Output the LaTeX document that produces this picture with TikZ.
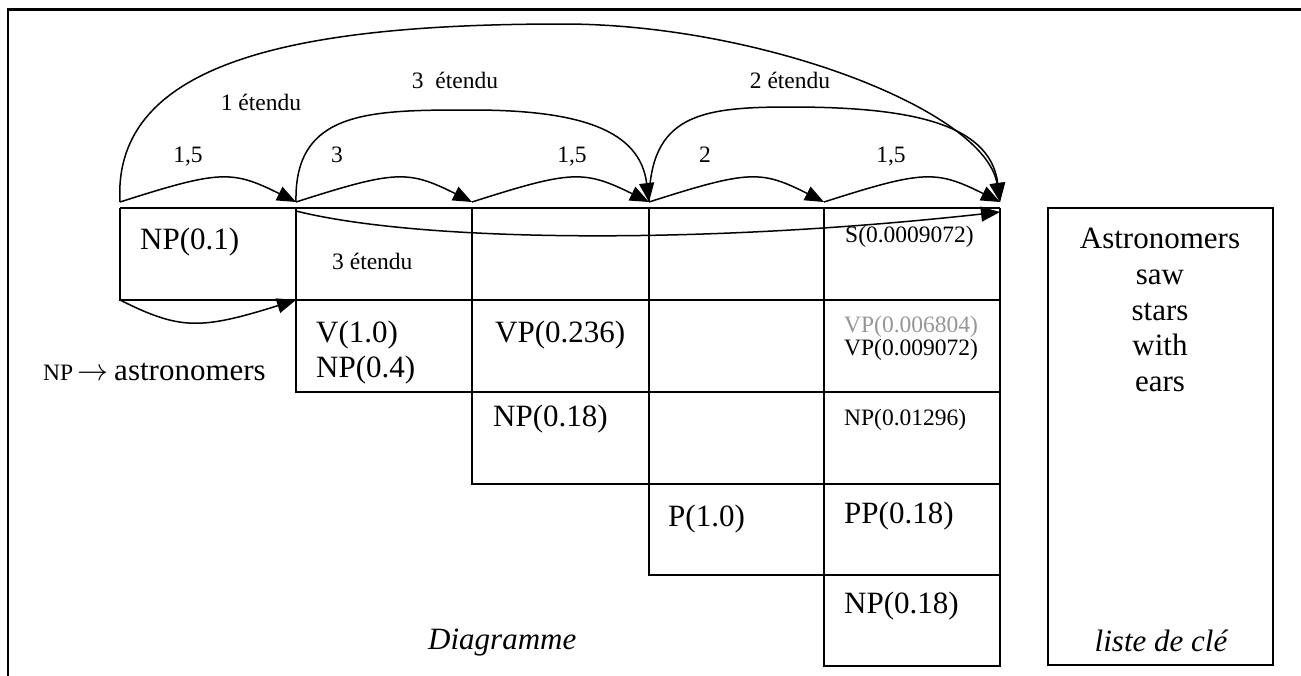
\documentclass[tikz,border=0pt]{standalone}
\usepackage{fix-cm}
\usepackage{fontspec}
\setmainfont{Liberation Serif}
\usetikzlibrary{arrows.meta}
\definecolor{lightgrey}{RGB}{150,150,150}
\begin{document}
\begin{tikzpicture}[x=1pt,y=-1pt,
  big/.style={font=\fontsize{31}{35}\selectfont, inner sep=0pt},
  small/.style={font=\fontsize{23.5}{26}\selectfont, inner sep=0pt},
  bigit/.style={font=\fontsize{31}{35}\selectfont\itshape, inner sep=0pt},
  gridline/.style={line width=1.8pt},
  framel/.style={line width=2.2pt},
  arc/.style={line width=1.5pt, -{Triangle[length=19pt,width=15pt]}},
]
\useasboundingbox (0,0) rectangle (1301,675);
% outer frame
\draw[framel] (8,680) -- (8,9.5) -- (1310,9.5);

% chart grid
\draw[gridline] (120,208) -- (1000,208);
\draw[gridline] (120,208) -- (120,300) -- (1000,300);
\draw[gridline] (296,208) -- (296,392) -- (1000,392);
\draw[gridline] (472,208) -- (472,484) -- (1000,484);
\draw[gridline] (649,208) -- (649,575) -- (1000,575);
\draw[gridline] (824,208) -- (824,666) -- (1000,666) -- (1000,208);

% key list box
\draw[gridline] (1048,208) rectangle (1273,665);

% anchor points of the arrows
\coordinate (t0) at (120,202);
\coordinate (t1) at (296,202);
\coordinate (t2) at (472,202);
\coordinate (t3) at (649,202);
\coordinate (t4) at (824,202);
\coordinate (t5) at (1000,202);
\coordinate (b0) at (120,300);
\coordinate (b1) at (296,300);
\coordinate (l0) at (296,211);
\coordinate (l1) at (1000,212);

% short arrows
\draw[arc] (t0) .. controls (220,170) and (232,170) .. (t1);
\draw[arc] (t1) .. controls (396,170) and (408,170) .. (t2);
\draw[arc] (t2) .. controls (572,170) and (584,170) .. (t3);
\draw[arc] (t3) .. controls (749,170) and (761,170) .. (t4);
\draw[arc] (t4) .. controls (924,170) and (936,170) .. (t5);

% extended arcs
\draw[arc] (t0) .. controls (112,60) and (300,24) .. (563,24)
               .. controls (760,24) and (985,110) .. (t5);
\draw[arc] (t1) .. controls (294,110) and (370,110) .. (472,110)
               .. controls (580,110) and (640,130) .. (t3);
\draw[arc] (t3) .. controls (650,115) and (700,107) .. (790,107)
               .. controls (900,107) and (990,120) .. (t5);

% lower arrows
\draw[arc] (b0) .. controls (180,330) and (200,330) .. (b1);
\draw[arc] (l0) .. controls (420,242) and (700,245) .. (l1);

% arrow labels
\node[small, anchor=base] (la1) at (188,162) {1,5};
\node[small, anchor=base] (la2) at (337,162) {3};
\node[small, anchor=base] (la3) at (572,162) {1,5};
\node[small, anchor=base] (la4) at (705,162) {2};
\node[small, anchor=base] (la5) at (891,162) {1,5};
\node[small, anchor=base] (le1) at (261,110) {1 étendu};
\node[small, anchor=base] (le3) at (455,88) {3\ \ étendu};
\node[small, anchor=base] (le2) at (790,88) {2 étendu};

% cell contents
\node[big, anchor=base west] (np01) at (140,249) {NP(0.1)};
\node[small, anchor=base west] (et3) at (332,269) {3 étendu};
\node[big, anchor=base west] (v10) at (316,342) {V(1.0)};
\node[big, anchor=base west] (np04) at (316,377) {NP(0.4)};
\node[big, anchor=base west] (vp236) at (495,342) {VP(0.236)};
\node[big, anchor=base west] (np18a) at (493,426) {NP(0.18)};
\node[small, anchor=base west] (s) at (845,242) {S(0.0009072)};
\node[small, anchor=base west, text=lightgrey] (vpg) at (844,332) {VP(0.006804)};
\node[small, anchor=base west] (vpb) at (844,355) {VP(0.009072)};
\node[small, anchor=base west] (np01296) at (844,425) {NP(0.01296)};
\node[big, anchor=base west] (p10) at (668,526) {P(1.0)};
\node[big, anchor=base west] (pp18) at (844,523) {PP(0.18)};
\node[big, anchor=base west] (np18b) at (844,613) {NP(0.18)};

% rule
\node[inner sep=0pt, anchor=base west] (rule) at (43,380)
  {{\fontsize{23.5}{26}\selectfont NP}\hspace{4pt}{\fontsize{31}{35}\selectfont $\rightarrow$\hspace{6pt}astronomers}};

% key list
\node[big, anchor=base] (w1) at (1160,248) {Astronomers};
\node[big, anchor=base] (w2) at (1160,284) {saw};
\node[big, anchor=base] (w3) at (1160,320) {stars};
\node[big, anchor=base] (w4) at (1160,355.5) {with};
\node[big, anchor=base] (w5) at (1160,391) {ears};

% captions
\node[bigit, anchor=base west] (diag) at (428,649) {Diagramme};
\node[bigit, anchor=base] (liste) at (1161,651) {liste de clé};
\end{tikzpicture}
\end{document}
